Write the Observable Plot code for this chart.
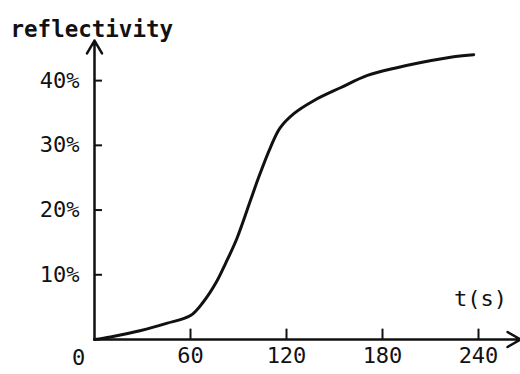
<!DOCTYPE html>
<html><head><meta charset="utf-8">
<script src="https://cdn.jsdelivr.net/npm/d3@7"></script>
<script src="https://cdn.jsdelivr.net/npm/@observablehq/plot@0.6"></script>
<style>body{margin:0;background:#fff}</style>
</head><body><div id="chart"></div>
<script>
const times = [0, 10, 29, 45, 60, 68, 76, 82, 89, 97.5, 102.5, 110, 116, 124.6, 137, 153.75, 170.6, 189, 204, 224.5, 237];
const reflectivity = [0, 0.4, 1.4, 2.5, 3.7, 5.8, 8.8, 11.8, 15.6, 21.5, 25.0, 29.7, 32.7, 34.9, 36.9, 38.9, 40.8, 42.0, 42.8, 43.7, 44.0];
const xTicks = [60, 120, 180, 240];
const yTicks = [10, 20, 30, 40];
const yTickLabels = ["10%", "20%", "30%", "40%"];
const originLabel = ["0"];
const titleText = ["reflectivity"];
const xLabel = ["t(s)"];
const xMax = 266.25, yMax = 46.2;

const data = times.map((t, i) => ({t, r: reflectivity[i]}));
const ink = "#111";

const chart = Plot.plot({
  width: 520, height: 374,
  marginLeft: 94, marginRight: 0, marginTop: 40, marginBottom: 35,
  x: {domain: [0, xMax], axis: null},
  y: {domain: [0, yMax], axis: null},
  style: {fontFamily: "'DejaVu Sans Mono', monospace", fontSize: "22px", color: ink, background: "#fff", overflow: "visible"},
  marks: [
    Plot.arrow([0], {x1: 0, y1: 0, x2: xMax, y2: 0, headLength: 9, strokeWidth: 2.5, stroke: ink}),
    Plot.arrow([0], {x1: 0, y1: 0, x2: 0, y2: yMax, headLength: 9, strokeWidth: 2.5, stroke: ink}),
    Plot.ruleY(yTicks, {y: d => d, x1: 0, x2: 5, strokeWidth: 2, stroke: ink}),
    Plot.ruleX(xTicks, {x: d => d, y1: 0, y2: 1.6, strokeWidth: 2, stroke: ink}),
    Plot.axisY(yTicks, {tickSize: 0, tickPadding: 15, label: null, tickFormat: d => yTickLabels[yTicks.indexOf(d)], fontSize: 22, fill: ink}),
    Plot.axisX(xTicks, {tickSize: 0, tickPadding: 8, label: null, fontSize: 22, fill: ink}),
    Plot.text(originLabel, {x: 0, y: 0, text: d => d, dx: -16, dy: 18, fontSize: 22, fill: ink}),
    Plot.line(data, {x: "t", y: "r", curve: "catmull-rom", strokeWidth: 3, stroke: ink}),
    Plot.text(titleText, {frameAnchor: "top-left", text: d => d, dx: -84, dy: -19, textAnchor: "start", fontWeight: "bold", fontSize: 22.5, fill: ink}),
    Plot.text(xLabel, {frameAnchor: "bottom-right", text: d => d, dx: -40, dy: -34, textAnchor: "middle", fontSize: 22, fill: ink})
  ]
});
document.getElementById("chart").appendChild(chart);
</script>
</body></html>
